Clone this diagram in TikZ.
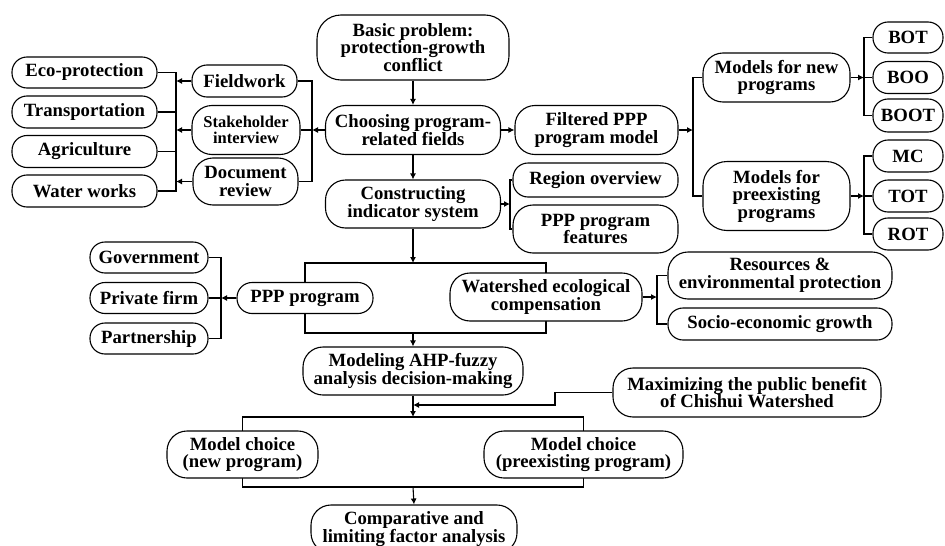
\documentclass[tikz,border=0pt]{standalone}
\usepackage{fontspec}
\setmainfont{Liberation Serif}
\usetikzlibrary{arrows.meta}
\pgfdeclarelayer{bg}
\pgfsetlayers{bg,main}
\begin{document}
\begin{tikzpicture}[x=1pt,y=-1pt,
  box/.style={draw, line width=1.1pt, fill=white, rounded corners=15pt, align=center, inner sep=0pt,
    font=\fontsize{18.7}{17.5}\selectfont\bfseries},
  tall/.style={rounded corners=20pt},
  arr/.style={line width=1.1pt, -{Latex[length=6pt,width=6pt]}},
  ln/.style={line width=1.1pt}]
\clip (0,0) rectangle (945,546);

% central column
\node[box, tall, rounded corners=24pt, minimum width=192pt, minimum height=65pt] (basic) at (413,47.5) {Basic problem:\\protection-growth\\conflict};
\node[box, tall, minimum width=175pt, minimum height=49pt] (choosing) at (413,130) {Choosing program-\\related fields};
\node[box, tall, minimum width=163pt, minimum height=49pt] (filtered) at (596.5,130) {Filtered PPP\\program model};
\node[box, tall, minimum width=175pt, minimum height=48pt] (construct) at (413,204) {Constructing\\indicator system};
\node[box, minimum width=165pt, minimum height=34pt] (region) at (595.5,180) {Region overview};
\node[box, tall, minimum width=165pt, minimum height=48pt] (pppfeat) at (595.5,229) {PPP program\\features};

% right column
\node[box, tall, minimum width=147pt, minimum height=49pt] (modnew) at (776.5,77.5) {Models for new\\programs};
\node[box, tall, rounded corners=24pt, minimum width=147pt, minimum height=69pt] (modpre) at (776.5,196) {Models for\\preexisting\\programs};
\node[box, minimum width=70pt, minimum height=31pt] (bot) at (908,37.5) {BOT};
\node[box, minimum width=70pt, minimum height=32pt] (boo) at (908,77.5) {BOO};
\node[box, minimum width=70pt, minimum height=33pt] (boot) at (908,115.5) {BOOT};
\node[box, minimum width=70pt, minimum height=32pt] (mc) at (908,156) {MC};
\node[box, minimum width=70pt, minimum height=32pt] (tot) at (908,196) {TOT};
\node[box, minimum width=70pt, minimum height=32pt] (rot) at (908,234) {ROT};

% left columns
\node[box, minimum width=105pt, minimum height=32pt] (field) at (244.5,81) {Fieldwork};
\node[box, tall, minimum width=108pt, minimum height=49pt, font=\fontsize{16.5}{16.5}\selectfont\bfseries] (stake) at (246,130) {Stakeholder\\interview};
\node[box, tall, minimum width=105pt, minimum height=47pt] (doc) at (245.5,181.5) {Document\\review};
\node[box, minimum width=145pt, minimum height=31pt] (eco) at (84.5,72.5) {Eco-protection};
\node[box, minimum width=145pt, minimum height=32pt] (trans) at (84.5,112) {Transportation};
\node[box, minimum width=145pt, minimum height=32pt] (agri) at (84.5,151.5) {Agriculture};
\node[box, minimum width=145pt, minimum height=32pt] (water) at (84.5,191) {Water works};

% middle band
\node[box, minimum width=118pt, minimum height=31pt] (gov) at (149,257.5) {Government};
\node[box, minimum width=118pt, minimum height=31pt] (private) at (149,298) {Private firm};
\node[box, minimum width=118pt, minimum height=31pt] (partner) at (149,338.5) {Partnership};
\node[box, minimum width=136pt, minimum height=31pt] (ppp) at (305,298) {PPP program};
\node[box, tall, minimum width=192pt, minimum height=48pt] (watershed) at (546,297) {Watershed ecological\\compensation};
\node[box, tall, minimum width=224pt, minimum height=47pt] (resources) at (780,275.5) {Resources \&\\environmental protection};
\node[box, minimum width=224pt, minimum height=32pt] (socio) at (780,324) {Socio-economic growth};

% lower part
\node[box, tall, minimum width=220pt, minimum height=48pt] (modeling) at (413,371) {Modeling AHP-fuzzy\\analysis decision-making};
\node[box, tall, minimum width=268pt, minimum height=49pt] (maximizing) at (747,392.5) {Maximizing the public benefit\\of Chishui Watershed};
\node[box, tall, minimum width=151pt, minimum height=47pt] (mcnew) at (242.5,454.5) {Model choice\\(new program)};
\node[box, tall, minimum width=199pt, minimum height=47pt] (mcpre) at (583.5,454.5) {Model choice\\(preexisting program)};
\node[box, tall, minimum width=206pt, minimum height=48pt] (comparative) at (414,529) {Comparative and\\limiting factor analysis};

% coordinates
\coordinate (mb) at (312,130);
\coordinate (lb) at (176,130);
\coordinate (rb) at (693,130);
\coordinate (nb) at (864,77.5);
\coordinate (pb) at (864,196);
\coordinate (cb) at (510,204);
\coordinate (r1t) at (413,263);
\coordinate (r1b) at (413,333);
\coordinate (gb) at (221,298);
\coordinate (wb) at (657,297);
\coordinate (r2t) at (413,417);
\coordinate (r2b) at (413,487);
\coordinate (mx) at (555,405);

% background and brackets behind nodes
\begin{pgfonlayer}{bg}
\fill[white] (0,0) rectangle (945,546);
\draw[ln] (ppp.center) |- (r1t) -| (watershed.center) |- (r1b) -| (ppp.center);
\draw[ln] (mcnew.center) |- (r2t) -| (mcpre.center) |- (r2b) -| (mcnew.center);
\end{pgfonlayer}

% connectors
\draw[arr] (basic.south) -- (choosing.north);
\draw[arr] (choosing.south) -- (construct.north);
\draw[arr] (choosing.east) -- (filtered.west);

\draw[arr] (choosing.west) -- (mb);
\draw[ln] (field.east) -| (mb);
\draw[ln] (doc.east) -| (mb);
\draw[ln] (stake.east) -- (stake.east -| mb);

\draw[arr] (field.west) -- (field.west -| lb);
\draw[arr] (stake.west) -- (lb);
\draw[arr] (doc.west) -- (doc.west -| lb);
\draw[ln] (eco.east) -| (water.east -| lb) -- (water.east);
\draw[ln] (trans.east) -- (trans.east -| lb);
\draw[ln] (agri.east) -- (agri.east -| lb);

\draw[arr] (filtered.east) -- (rb);
\draw[ln] (modnew.west) -| (rb) |- (modpre.west);

\draw[arr] (modnew.east) -- (nb);
\draw[ln] (bot.west) -| (nb) |- (boot.west);
\draw[ln] (boo.west) -- (nb);
\draw[arr] (modpre.east) -- (pb);
\draw[ln] (mc.west) -| (pb) |- (rot.west);
\draw[ln] (tot.west) -- (pb);

\draw[arr] (construct.east) -- (cb);
\draw[ln] (region.west) -| (cb) |- (pppfeat.west);
\draw[arr] (construct.south) -- (r1t);

\draw[arr] (ppp.west) -- (gb);
\draw[ln] (gov.east) -| (gb) |- (partner.east);
\draw[ln] (private.east) -- (gb);

\draw[arr] (watershed.east) -- (wb);
\draw[ln] (resources.west) -| (wb) |- (socio.west);

\draw[arr] (r1b) -- (modeling.north);
\draw[arr] (modeling.south) -- (r2t);
\draw[arr] (maximizing.west) -| (mx) -- (mx -| modeling.south);
\draw[arr] (r2b) -- (comparative.north);
\end{tikzpicture}
\end{document}
